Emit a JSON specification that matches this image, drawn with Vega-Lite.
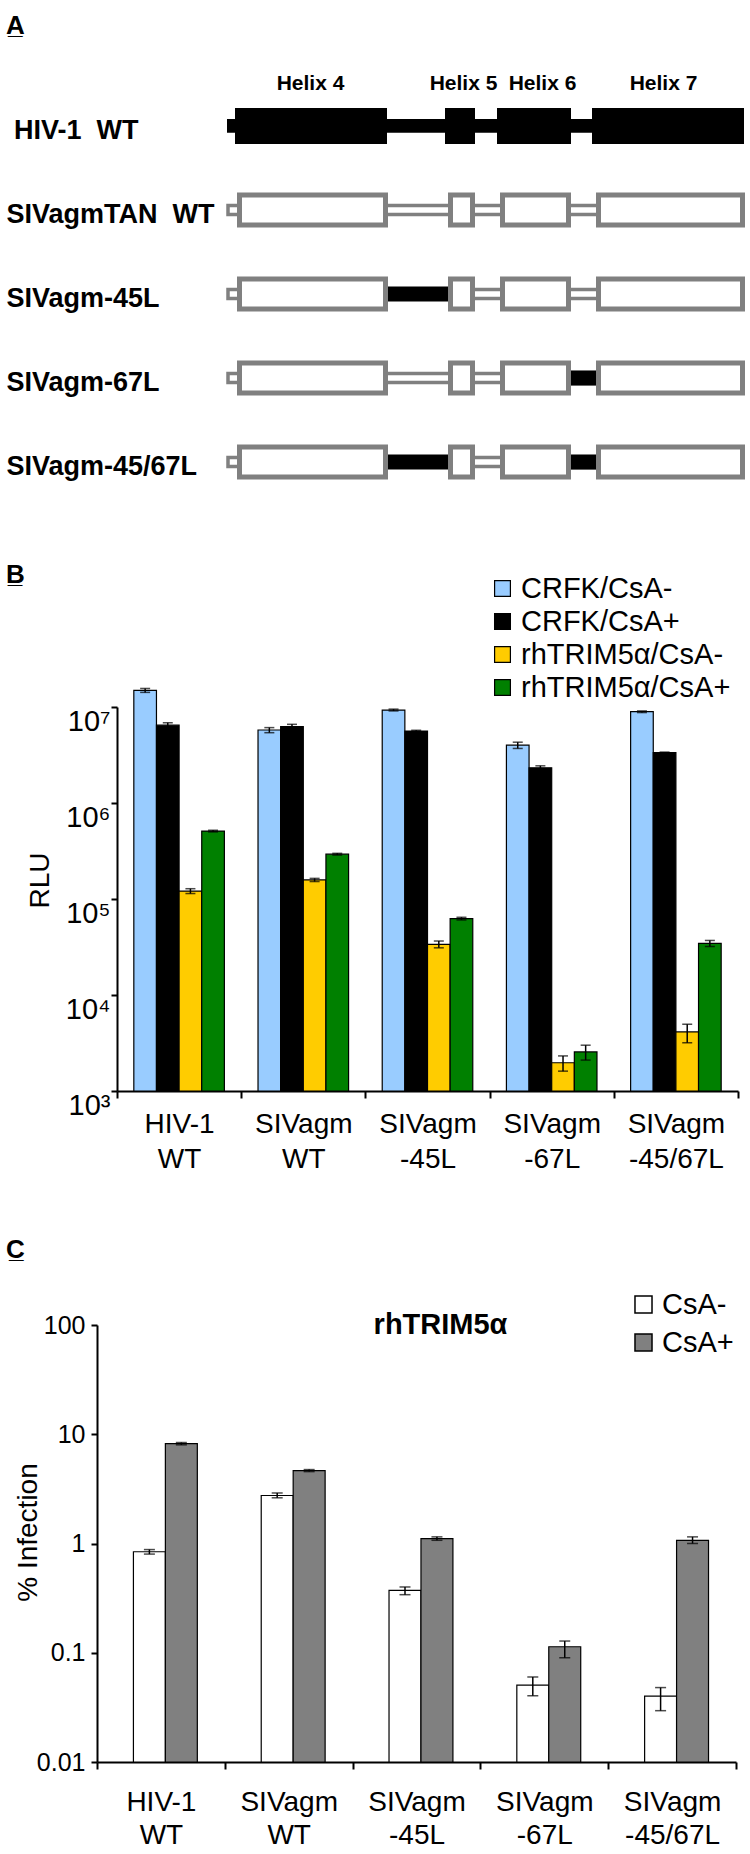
{
  "$schema": "https://vega.github.io/schema/vega-lite/v6.json",
  "background": "white",
  "padding": {"left": 6, "top": 13, "right": 0, "bottom": 0},
  "config": {
    "font": "Liberation Sans",
    "view": {"stroke": null},
    "axis": {"labelColor": "black", "titleColor": "black", "domainColor": "black", "tickColor": "black", "grid": false, "labelFont": "Liberation Sans", "titleFont": "Liberation Sans"},
    "legend": {"labelFont": "Liberation Sans", "labelColor": "black"},
    "title": {"font": "Liberation Sans", "color": "black"}
  },
  "datasets": {
    "schematic": [
      {"row": "\u200b\u00a0HIV-1\u00a0\u00a0WT", "kind": "hivlink", "x1": 0, "x2": 517},
      {"row": "\u200b\u00a0HIV-1\u00a0\u00a0WT", "kind": "hivbox", "x1": 8, "x2": 160},
      {"row": "\u200b\u00a0HIV-1\u00a0\u00a0WT", "kind": "hivbox", "x1": 218, "x2": 248},
      {"row": "\u200b\u00a0HIV-1\u00a0\u00a0WT", "kind": "hivbox", "x1": 270, "x2": 344},
      {"row": "\u200b\u00a0HIV-1\u00a0\u00a0WT", "kind": "hivbox", "x1": 365, "x2": 517},
      {"row": "SIVagmTAN\u00a0\u00a0WT", "kind": "sivlink", "x1": 1, "x2": 400},
      {"row": "SIVagmTAN\u00a0\u00a0WT", "kind": "sivbox", "x1": 12.5, "x2": 158.5},
      {"row": "SIVagmTAN\u00a0\u00a0WT", "kind": "sivbox", "x1": 223.5, "x2": 245.5},
      {"row": "SIVagmTAN\u00a0\u00a0WT", "kind": "sivbox", "x1": 275.5, "x2": 341.5},
      {"row": "SIVagmTAN\u00a0\u00a0WT", "kind": "sivbox", "x1": 371.5, "x2": 515.5},
      {"row": "SIVagm-45L", "kind": "sivlink", "x1": 1, "x2": 400},
      {"row": "SIVagm-45L", "kind": "mutlink", "x1": 158, "x2": 224},
      {"row": "SIVagm-45L", "kind": "sivbox", "x1": 12.5, "x2": 158.5},
      {"row": "SIVagm-45L", "kind": "sivbox", "x1": 223.5, "x2": 245.5},
      {"row": "SIVagm-45L", "kind": "sivbox", "x1": 275.5, "x2": 341.5},
      {"row": "SIVagm-45L", "kind": "sivbox", "x1": 371.5, "x2": 515.5},
      {"row": "SIVagm-67L", "kind": "sivlink", "x1": 1, "x2": 400},
      {"row": "SIVagm-67L", "kind": "mutlink", "x1": 341, "x2": 372},
      {"row": "SIVagm-67L", "kind": "sivbox", "x1": 12.5, "x2": 158.5},
      {"row": "SIVagm-67L", "kind": "sivbox", "x1": 223.5, "x2": 245.5},
      {"row": "SIVagm-67L", "kind": "sivbox", "x1": 275.5, "x2": 341.5},
      {"row": "SIVagm-67L", "kind": "sivbox", "x1": 371.5, "x2": 515.5},
      {"row": "SIVagm-45/67L", "kind": "sivlink", "x1": 1, "x2": 400},
      {"row": "SIVagm-45/67L", "kind": "mutlink", "x1": 158, "x2": 224},
      {"row": "SIVagm-45/67L", "kind": "mutlink", "x1": 341, "x2": 372},
      {"row": "SIVagm-45/67L", "kind": "sivbox", "x1": 12.5, "x2": 158.5},
      {"row": "SIVagm-45/67L", "kind": "sivbox", "x1": 223.5, "x2": 245.5},
      {"row": "SIVagm-45/67L", "kind": "sivbox", "x1": 275.5, "x2": 341.5},
      {"row": "SIVagm-45/67L", "kind": "sivbox", "x1": 371.5, "x2": 515.5}
    ],
    "rlu": [
      {"virus": "HIV-1|WT", "cond": "CRFK/CsA-", "value": 14900000, "lo": 14200000, "hi": 15600000},
      {"virus": "HIV-1|WT", "cond": "CRFK/CsA+", "value": 6460000, "lo": 6100000, "hi": 6850000},
      {"virus": "HIV-1|WT", "cond": "rhTRIM5α/CsA-", "value": 121000, "lo": 114000, "hi": 128000},
      {"virus": "HIV-1|WT", "cond": "rhTRIM5α/CsA+", "value": 510000, "lo": 500000, "hi": 520000},
      {"virus": "SIVagm|WT", "cond": "CRFK/CsA-", "value": 5760000, "lo": 5400000, "hi": 6100000},
      {"virus": "SIVagm|WT", "cond": "CRFK/CsA+", "value": 6240000, "lo": 5950000, "hi": 6600000},
      {"virus": "SIVagm|WT", "cond": "rhTRIM5α/CsA-", "value": 158000, "lo": 152000, "hi": 164000},
      {"virus": "SIVagm|WT", "cond": "rhTRIM5α/CsA+", "value": 293000, "lo": 287000, "hi": 299000},
      {"virus": "SIVagm|-45L", "cond": "CRFK/CsA-", "value": 9300000, "lo": 9100000, "hi": 9500000},
      {"virus": "SIVagm|-45L", "cond": "CRFK/CsA+", "value": 5620000, "lo": 5520000, "hi": 5720000},
      {"virus": "SIVagm|-45L", "cond": "rhTRIM5α/CsA-", "value": 33700, "lo": 31000, "hi": 36500},
      {"virus": "SIVagm|-45L", "cond": "rhTRIM5α/CsA+", "value": 62500, "lo": 60500, "hi": 64500},
      {"virus": "SIVagm|-67L", "cond": "CRFK/CsA-", "value": 4000000, "lo": 3700000, "hi": 4300000},
      {"virus": "SIVagm|-67L", "cond": "CRFK/CsA+", "value": 2330000, "lo": 2220000, "hi": 2440000},
      {"virus": "SIVagm|-67L", "cond": "rhTRIM5α/CsA-", "value": 1970, "lo": 1610, "hi": 2320},
      {"virus": "SIVagm|-67L", "cond": "rhTRIM5α/CsA+", "value": 2550, "lo": 2100, "hi": 3000},
      {"virus": "SIVagm|-45/67L", "cond": "CRFK/CsA-", "value": 8930000, "lo": 8750000, "hi": 9100000},
      {"virus": "SIVagm|-45/67L", "cond": "CRFK/CsA+", "value": 3340000, "lo": 3290000, "hi": 3390000},
      {"virus": "SIVagm|-45/67L", "cond": "rhTRIM5α/CsA-", "value": 4120, "lo": 3180, "hi": 4960},
      {"virus": "SIVagm|-45/67L", "cond": "rhTRIM5α/CsA+", "value": 34500, "lo": 32000, "hi": 37000}
    ],
    "infection": [
      {"virus": "HIV-1|WT", "cond": "CsA-", "value": 0.84, "lo": 0.8, "hi": 0.88},
      {"virus": "HIV-1|WT", "cond": "CsA+", "value": 8.2, "lo": 8.0, "hi": 8.4},
      {"virus": "SIVagm|WT", "cond": "CsA-", "value": 2.75, "lo": 2.62, "hi": 2.9},
      {"virus": "SIVagm|WT", "cond": "CsA+", "value": 4.65, "lo": 4.55, "hi": 4.75},
      {"virus": "SIVagm|-45L", "cond": "CsA-", "value": 0.372, "lo": 0.34, "hi": 0.4},
      {"virus": "SIVagm|-45L", "cond": "CsA+", "value": 1.11, "lo": 1.07, "hi": 1.15},
      {"virus": "SIVagm|-67L", "cond": "CsA-", "value": 0.0505, "lo": 0.0404, "hi": 0.06},
      {"virus": "SIVagm|-67L", "cond": "CsA+", "value": 0.1135, "lo": 0.09, "hi": 0.128},
      {"virus": "SIVagm|-45/67L", "cond": "CsA-", "value": 0.04, "lo": 0.0295, "hi": 0.048},
      {"virus": "SIVagm|-45/67L", "cond": "CsA+", "value": 1.07, "lo": 1.0, "hi": 1.15}
    ]
  },
  "concat": [
    {
      "width": 650,
      "height": 394,
      "title": {"text": "A\u0332", "anchor": "start", "frame": "group", "dx": -91, "fontSize": 26, "fontWeight": "bold", "offset": 33},
      "data": {"name": "schematic"},
      "encoding": {
        "y": {
          "field": "row", "type": "nominal",
          "scale": {"domain": ["\u200b\u00a0HIV-1\u00a0\u00a0WT", "SIVagmTAN\u00a0\u00a0WT", "SIVagm-45L", "SIVagm-67L", "SIVagm-45/67L"], "paddingInner": 0.571, "paddingOuter": 0.13},
          "axis": {"orient": "left", "title": null, "domain": false, "ticks": false, "tickSize": 0, "labelAlign": "left", "labelPadding": 91, "labelFontSize": 27, "labelFontWeight": "bold", "labelOffset": 5, "labelLimit": 400, "labelBaseline": "middle"}
        },
        "x": {
          "field": "x1", "type": "quantitative",
          "scale": {"domain": [-130, 520], "nice": false, "zero": false},
          "axis": {"orient": "top", "title": null, "domain": false, "ticks": false, "tickSize": 0, "grid": false, "labelPadding": 4, "values": [83, 236, 315, 436], "labelExpr": "datum.value == 83 ? 'Helix 4' : datum.value == 236 ? 'Helix 5' : datum.value == 315 ? 'Helix 6' : 'Helix 7'", "labelFontSize": 21, "labelFontWeight": "bold"}
        },
        "x2": {"field": "x2"}
      },
      "layer": [
        {"transform": [{"filter": "datum.kind == 'sivlink'"}], "mark": {"type": "bar", "height": {"band": 0.25}, "fill": "white", "stroke": "#808080", "strokeWidth": 3.5}},
        {"transform": [{"filter": "datum.kind == 'hivlink'"}], "mark": {"type": "bar", "height": {"band": 0.38}, "fill": "black"}},
        {"transform": [{"filter": "datum.kind == 'mutlink'"}], "mark": {"type": "bar", "height": {"band": 0.42}, "fill": "black"}},
        {"transform": [{"filter": "datum.kind == 'hivbox'"}], "mark": {"type": "bar", "fill": "black"}},
        {"transform": [{"filter": "datum.kind == 'sivbox'"}], "mark": {"type": "bar", "height": {"band": 0.83}, "fill": "white", "stroke": "#808080", "strokeWidth": 5}}
      ]
    },
    {
      "columns": 1,
      "spacing": 64,
      "align": "none",
      "resolve": {"scale": {"color": "independent", "xOffset": "independent"}, "legend": {"color": "independent"}},
      "concat": [
        {
          "width": 641,
          "height": 384,
          "title": {"text": "B\u0332", "anchor": "start", "frame": "group", "dx": -91, "fontSize": 26, "fontWeight": "bold", "offset": -14},
          "data": {"name": "rlu"},
          "encoding": {
            "x": {
              "field": "virus", "type": "nominal",
              "scale": {"domain": ["HIV-1|WT", "SIVagm|WT", "SIVagm|-45L", "SIVagm|-67L", "SIVagm|-45/67L"], "paddingInner": 0, "paddingOuter": 0, "range": [20, 641]},
              "axis": {"title": null, "labelAngle": 0, "labelExpr": "split(datum.label, '|')", "labelFontSize": 28, "labelLineHeight": 35, "labelPadding": 12, "labelBaseline": "top", "tickBand": "extent", "tickSize": 7, "tickWidth": 2, "domainWidth": 2}
            },
            "xOffset": {"field": "cond", "type": "nominal", "scale": {"domain": ["CRFK/CsA-", "CRFK/CsA+", "rhTRIM5α/CsA-", "rhTRIM5α/CsA+"], "paddingInner": 0, "paddingOuter": 0.743}}
          },
          "layer": [
            {
              "mark": {"type": "bar", "stroke": "black", "strokeWidth": 1.2},
              "encoding": {
                "y": {
                  "field": "value", "type": "quantitative",
                  "scale": {"type": "log", "domain": [1000, 10000000], "nice": false},
                  "axis": {"orient": "left", "offset": -20, "title": "RLU", "titleFontSize": 28, "titleFontWeight": "normal", "titleX": -69, "titleY": 173, "titleBaseline": "alphabetic", "values": [1000, 10000, 100000, 1000000, 10000000], "labelExpr": "datum.value >= 1e7 ? '10⁷' : datum.value >= 1e6 ? '10⁶' : datum.value >= 1e5 ? '10⁵' : datum.value >= 1e4 ? '10⁴' : '10³'", "labelFontSize": 29, "labelPadding": 1, "labelBaseline": "top", "tickSize": 6, "tickWidth": 2, "domainWidth": 2}
                },
                "y2": {"datum": 1000},
                "color": {
                  "field": "cond", "type": "nominal",
                  "scale": {"domain": ["CRFK/CsA-", "CRFK/CsA+", "rhTRIM5α/CsA-", "rhTRIM5α/CsA+"], "range": ["#99CCFF", "#000000", "#FFCC00", "#008000"]},
                  "legend": {"orient": "none", "legendX": 391, "legendY": -133, "title": null, "padding": 0, "symbolType": "square", "symbolSize": 250, "symbolStrokeColor": "black", "symbolStrokeWidth": 1.2, "labelFontSize": 29, "labelLimit": 400, "rowPadding": 3, "labelOffset": 4}
                }
              }
            },
            {
              "mark": {"type": "rule", "color": "black", "strokeWidth": 1.5},
              "encoding": {
                "y": {"field": "lo", "type": "quantitative", "scale": {"type": "log", "domain": [1000, 10000000], "nice": false}},
                "y2": {"field": "hi"}
              }
            },
            {
              "mark": {"type": "tick", "color": "black", "size": 10, "thickness": 1.5},
              "encoding": {"y": {"field": "lo", "type": "quantitative", "scale": {"type": "log", "domain": [1000, 10000000], "nice": false}}}
            },
            {
              "mark": {"type": "tick", "color": "black", "size": 10, "thickness": 1.5},
              "encoding": {"y": {"field": "hi", "type": "quantitative", "scale": {"type": "log", "domain": [1000, 10000000], "nice": false}}}
            }
          ]
        },
        {
          "width": 639,
          "height": 437,
          "title": {"text": "C\u0332", "anchor": "start", "frame": "group", "dx": -91, "fontSize": 26, "fontWeight": "bold", "offset": 27},
          "encoding": {
            "x": {
              "field": "virus", "type": "nominal",
              "scale": {"domain": ["HIV-1|WT", "SIVagm|WT", "SIVagm|-45L", "SIVagm|-67L", "SIVagm|-45/67L"], "paddingInner": 0, "paddingOuter": 0},
              "axis": {"title": null, "labelAngle": 0, "labelExpr": "split(datum.label, '|')", "labelFontSize": 28, "labelLineHeight": 33, "labelPadding": 19, "labelBaseline": "top", "tickBand": "extent", "tickSize": 7, "tickWidth": 2, "domainWidth": 2}
            }
          },
          "layer": [
            {
              "data": {"name": "infection"},
              "mark": {"type": "bar", "stroke": "black", "strokeWidth": 1.2},
              "encoding": {
                "xOffset": {"field": "cond", "type": "nominal", "scale": {"domain": ["CsA-", "CsA+"], "paddingInner": 0, "paddingOuter": 1.279, "align": 0.57}},
                "y": {
                  "field": "value", "type": "quantitative",
                  "scale": {"type": "log", "domain": [0.01, 100], "nice": false},
                  "axis": {"orient": "left", "title": "% Infection", "titleFontSize": 28, "titleFontWeight": "normal", "titleX": -61, "titleY": 207, "titleBaseline": "alphabetic", "values": [0.01, 0.1, 1, 10, 100], "labelExpr": "datum.value >= 100 ? '100' : datum.value >= 10 ? '10' : datum.value >= 1 ? '1' : datum.value >= 0.1 ? '0.1' : '0.01'", "labelFontSize": 25, "labelPadding": 6, "tickSize": 6, "tickWidth": 2, "domainWidth": 2}
                },
                "y2": {"datum": 0.01},
                "color": {
                  "field": "cond", "type": "nominal",
                  "scale": {"domain": ["CsA-", "CsA+"], "range": ["#FFFFFF", "#808080"]},
                  "legend": {"orient": "none", "legendX": 532, "legendY": -35, "title": null, "padding": 0, "symbolType": "square", "symbolSize": 290, "symbolStrokeColor": "black", "symbolStrokeWidth": 1.5, "labelFontSize": 29, "labelLimit": 400, "rowPadding": 8, "labelOffset": 4}
                }
              }
            },
            {
              "data": {"name": "infection"},
              "mark": {"type": "rule", "color": "black", "strokeWidth": 1.5},
              "encoding": {
                "xOffset": {"field": "cond", "type": "nominal", "scale": {"domain": ["CsA-", "CsA+"], "paddingInner": 0, "paddingOuter": 1.279, "align": 0.57}},
                "y": {"field": "lo", "type": "quantitative", "scale": {"type": "log", "domain": [0.01, 100], "nice": false}},
                "y2": {"field": "hi"}
              }
            },
            {
              "data": {"name": "infection"},
              "mark": {"type": "tick", "color": "black", "size": 11, "thickness": 1.5},
              "encoding": {
                "xOffset": {"field": "cond", "type": "nominal", "scale": {"domain": ["CsA-", "CsA+"], "paddingInner": 0, "paddingOuter": 1.279, "align": 0.57}},
                "y": {"field": "lo", "type": "quantitative", "scale": {"type": "log", "domain": [0.01, 100], "nice": false}}
              }
            },
            {
              "data": {"name": "infection"},
              "mark": {"type": "tick", "color": "black", "size": 11, "thickness": 1.5},
              "encoding": {
                "xOffset": {"field": "cond", "type": "nominal", "scale": {"domain": ["CsA-", "CsA+"], "paddingInner": 0, "paddingOuter": 1.279, "align": 0.57}},
                "y": {"field": "hi", "type": "quantitative", "scale": {"type": "log", "domain": [0.01, 100], "nice": false}}
              }
            },
            {
              "data": {"values": [{"virus": "SIVagm|-45L", "label": "rhTRIM5α", "v": 100}]},
              "mark": {"type": "text", "fontSize": 29, "fontWeight": "bold", "dx": 24, "baseline": "middle", "color": "black"},
              "encoding": {
                "y": {"field": "v", "type": "quantitative", "scale": {"type": "log", "domain": [0.01, 100], "nice": false}},
                "text": {"field": "label"}
              }
            }
          ]
        }
      ]
    }
  ],
  "columns": 1,
  "spacing": 71,
  "align": "none"
}
